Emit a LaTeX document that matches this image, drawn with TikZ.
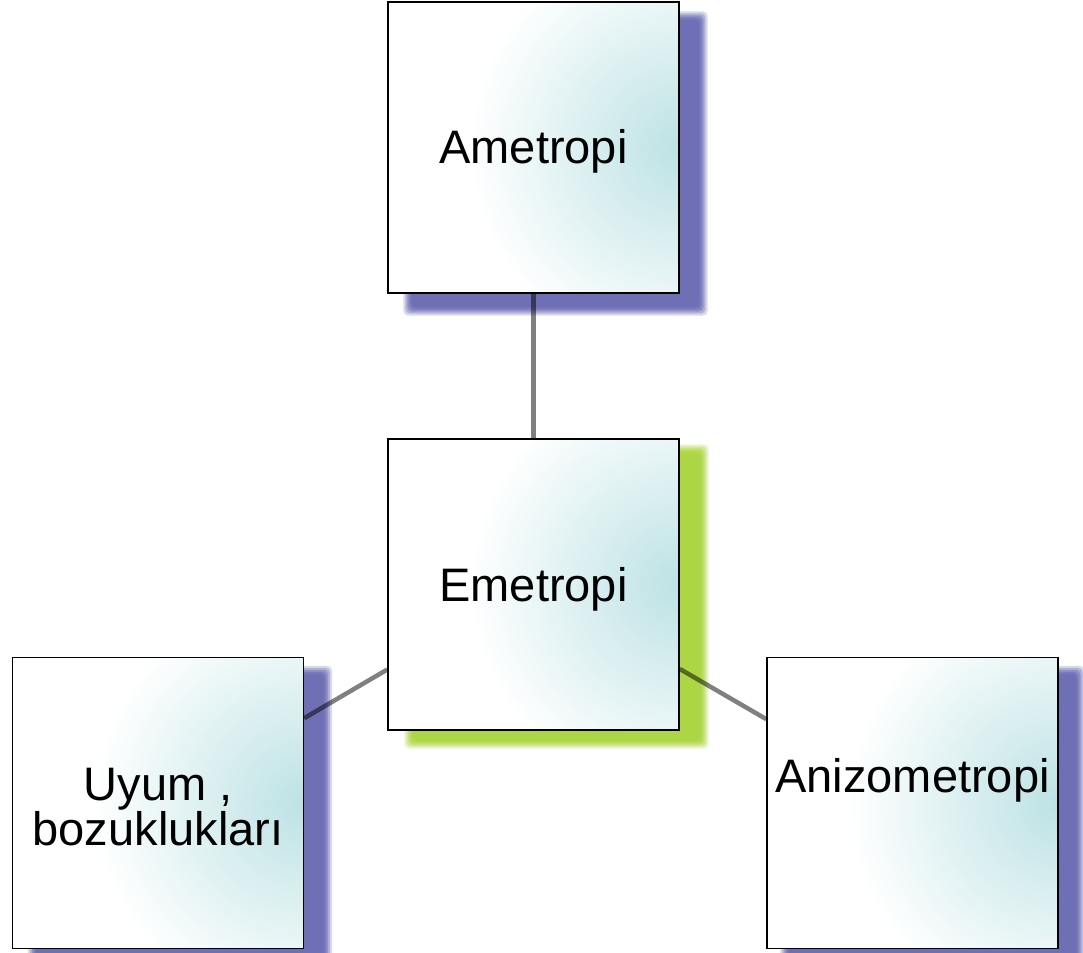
\documentclass[tikz,border=0pt]{standalone}
\usepackage{fontspec}
\setmainfont{Liberation Sans}
\definecolor{glowc}{HTML}{BDE2E4}
\definecolor{shpurple}{HTML}{6868B2}
\definecolor{shgreen}{HTML}{A8D43A}
\definecolor{linegray}{HTML}{808080}
\pgfdeclarelayer{shadowlayer}
\pgfdeclarelayer{linelayer}
\pgfsetlayers{shadowlayer,linelayer,main}
\pgfdeclareradialshading{boxglow}{\pgfpoint{0bp}{0bp}}{color(0bp)=(glowc); color(12.5bp)=(white); color(50bp)=(white)}
\newcommand\boxshadow[4]{%
  \foreach \r/\o in {6/0.25,4/0.35,2/0.45,0/0.55,-2/0.6}{%
    \fill[#2, opacity=\o, rounded corners=5pt]
      ([shift={(#3-\r,#4+\r)}]#1.south west) rectangle ([shift={(#3+\r,#4-\r)}]#1.north east);
  }}
\tikzset{
  box/.style={rectangle, draw=black, line width=1.4pt, fill=white,
    minimum width=291pt, minimum height=291pt, inner sep=0pt, align=center,
    font=\fontsize{47}{45}\selectfont,
    path picture={\shade[shading=boxglow] (path picture bounding box.east) circle[radius=420pt];}},
  link/.style={draw=linegray, line width=4.5pt}
}
\begin{document}
\begin{tikzpicture}[x=1pt,y=-1pt]
\useasboundingbox (0,0) rectangle (1083,952);
\node[box, text height=42pt, text depth=10pt] (amet) at (533.5,147.5) {Ametropi};
\node[box, text height=44pt, text depth=10pt] (emet) at (533.5,584.5) {Emetropi};
\node[box, text height=84pt, text depth=0pt] (uyum) at (158,803) {Uyum ,\\bozuklukları};
\node[box, text height=34pt, text depth=56pt] (aniz) at (912.5,803) {Anizometropi};
\begin{pgfonlayer}{shadowlayer}
  \boxshadow{amet}{shpurple}{22}{16}
  \boxshadow{emet}{shgreen}{23}{12}
  \boxshadow{uyum}{shpurple}{22}{15}
  \boxshadow{aniz}{shpurple}{20}{15}
\end{pgfonlayer}
\begin{pgfonlayer}{linelayer}
  \begin{scope}[blend mode=multiply]
    \draw[link] (amet) -- (emet);
    \draw[link] (emet) -- (uyum);
    \draw[link] (emet) -- (aniz);
  \end{scope}
\end{pgfonlayer}
\end{tikzpicture}
\end{document}
